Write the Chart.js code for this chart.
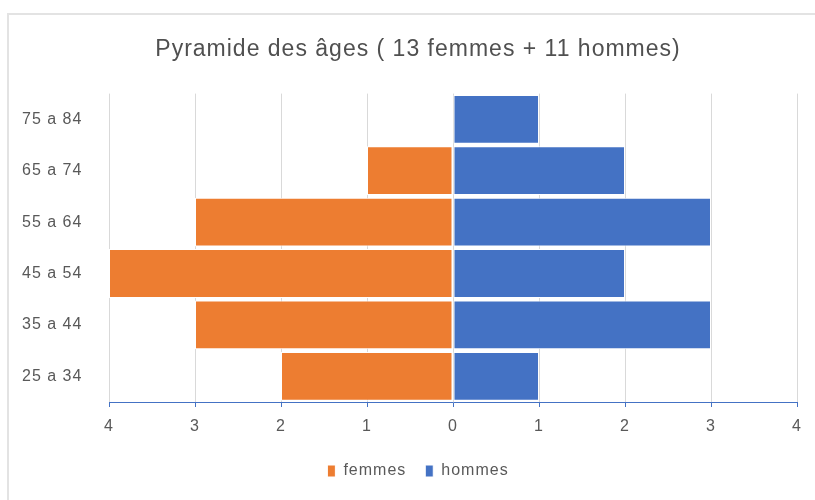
<!DOCTYPE html>
<html>
<head>
<meta charset="utf-8">
<script src="https://cdn.jsdelivr.net/npm/chart.js@4"></script>
<style>
  html, body { margin: 0; padding: 0; background: #fff; }
  .frame { position: absolute; left: 7px; top: 13px; width: 808px; height: 487px;
           border-left: 2px solid #e3e3e3; border-top: 2px solid #e3e3e3; }
  #pyramide { position: absolute; left: 0; top: 0; }
</style>
</head>
<body>
<div class="frame"></div>
<canvas id="pyramide" width="815" height="500"></canvas>
<script>
const ages = ['75 a 84', '65 a 74', '55 a 64', '45 a 54', '35 a 44', '25 a 34']
const femmes = [0, 1, 3, 4, 3, 2]
const hommes = [1, 2, 3, 2, 3, 1]
const graduations = [-4, -3, -2, -1, 0, 1, 2, 3, 4]

const police = "'Liberation Sans', Arial, sans-serif"
const gris = '#595959'

// le texte Excel est un peu plus espace
const espacement = {
  id: 'espacement',
  beforeUpdate: chart => { chart.ctx.letterSpacing = '1px' },
  beforeDraw: chart => { chart.ctx.letterSpacing = '1px' }
}

const ctx = document.getElementById('pyramide')

new Chart(ctx, {
  type: 'bar',
  data: {
    labels: ages,
    datasets: [
      {
        label: 'femmes',
        data: femmes.map(v => -v),
        backgroundColor: '#ED7D31',
        borderColor: '#fff',
        borderWidth: 1,
        borderSkipped: false,
        barPercentage: 0.95,
        categoryPercentage: 1
      },
      {
        label: 'hommes',
        data: hommes,
        backgroundColor: '#4472C4',
        borderColor: '#fff',
        borderWidth: 1,
        borderSkipped: false,
        barPercentage: 0.95,
        categoryPercentage: 1
      }
    ]
  },
  plugins: [espacement],
  options: {
    indexAxis: 'y',
    responsive: false,
    animation: false,
    layout: { padding: { left: 39, right: 18, top: 0, bottom: 11 } },
    scales: {
      x: {
        stacked: true,
        min: -4,
        max: 4,
        afterBuildTicks: axis => {
          axis.ticks = graduations.map(v => ({ value: v }))
        },
        ticks: {
          callback: v => Math.abs(v),
          color: gris,
          padding: 10,
          font: { family: police, size: 16 }
        },
        grid: { color: '#d9d9d9', tickColor: '#4472C4', tickLength: 5 },
        border: { color: '#4472C4', width: 1 },
        afterFit: axis => { axis.height = 42 }
      },
      y: {
        stacked: true,
        grid: { display: false, drawTicks: false },
        border: { display: false },
        ticks: {
          color: gris,
          mirror: true,
          padding: -87,
          font: { family: police, size: 16 }
        },
        afterFit: axis => { axis.width = 70 }
      }
    },
    plugins: {
      title: {
        display: true,
        text: 'Pyramide des âges ( 13 femmes + 11 hommes)',
        color: '#505050',
        font: { family: police, size: 23, weight: 'normal' },
        padding: { top: 36, bottom: 30 }
      },
      legend: {
        position: 'bottom',
        labels: {
          color: gris,
          boxWidth: 8,
          boxHeight: 12,
          padding: 19,
          font: { family: police, size: 16 }
        }
      },
      tooltip: { enabled: false }
    }
  }
})
</script>
</body>
</html>
